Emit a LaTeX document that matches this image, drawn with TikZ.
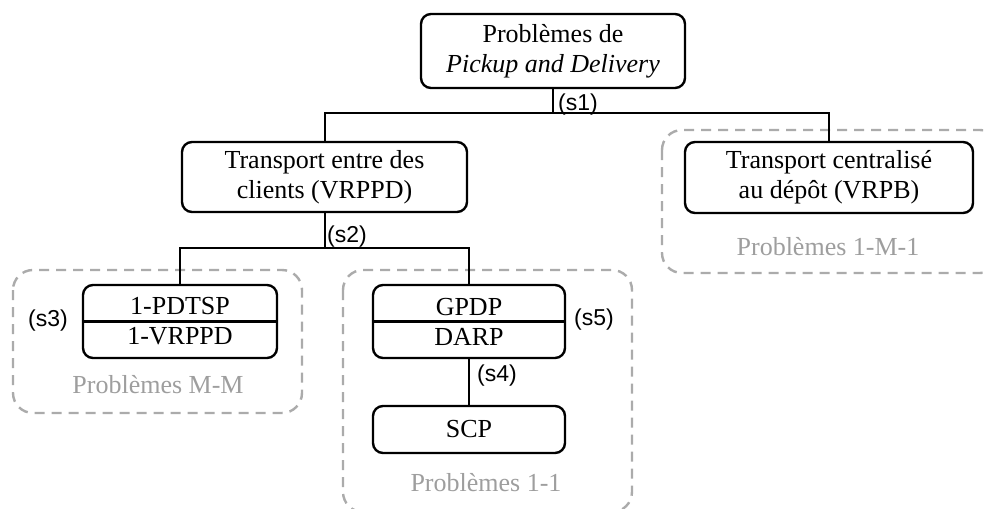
\documentclass[tikz,border=0pt]{standalone}
\usepackage{fontspec}
\setmainfont{Liberation Serif}
\newfontfamily\labfont{Liberation Sans}
\begin{document}
\begin{tikzpicture}[x=0.5pt,y=-0.5pt,
  box/.style={draw,line width=1.2pt,rounded corners=5pt,align=center,inner sep=0pt,font=\fontsize{13}{15}\selectfont},
  grp/.style={draw=black!33,dash pattern=on 5pt off 3.5pt,line width=1.2pt,rounded corners=10pt},
  grplab/.style={text=black!38,inner sep=0pt,font=\fontsize{13}{15}\selectfont},
  conn/.style={line width=1pt},
  slab/.style={font=\labfont\fontsize{11.5}{13}\selectfont,inner sep=0pt}]
\useasboundingbox (0,0) rectangle (986,509);
\clip (0,0) rectangle (986,509);
% groups
\draw[grp] (13,270) rectangle (302,413);
\draw[grp] (343,270) rectangle (632,512);
\draw[grp] (662,130) rectangle (1000,273);
\node[grplab] (gmm) at (158,385) {Problèmes M-M};
\node[grplab] (g11) at (486,483) {Problèmes 1-1};
\node[grplab] (g1m1) at (828,247) {Problèmes 1-M-1};
% boxes
\node[box,minimum width=132pt,minimum height=37pt] (top) at (553,51) {Problèmes de\\\textit{Pickup and Delivery}};
\node[box,minimum width=142.5pt,minimum height=35pt] (cli) at (324.5,177) {Transport entre des\\clients (VRPPD)};
\node[box,minimum width=144pt,minimum height=35.5pt] (dep) at (829,177.5) {Transport centralisé\\au dépôt (VRPB)};
\node[box,minimum width=97pt,minimum height=36.5pt] (mm) at (180,321.5) {1-PDTSP\\1-VRPPD};
\node[box,minimum width=96pt,minimum height=36.5pt] (gp) at (469,321.5) {GPDP\\DARP};
\node[box,minimum width=96pt,minimum height=23.5pt] (scp) at (469,429.5) {SCP};
\draw[line width=1.2pt] (mm.west) -- (mm.east);
\draw[line width=1.2pt] (gp.west) -- (gp.east);
% connectors
\coordinate (bus1) at (0,113);
\coordinate (bus2) at (0,248);
\draw[conn] (top.south) -- (top.south |- bus1);
\draw[conn] (cli.north) |- (dep.north |- bus1) -- (dep.north);
\draw[conn] (cli.south) -- (cli.south |- bus2);
\draw[conn] (mm.north) |- (gp.north |- bus2) -- (gp.north);
\draw[conn] (gp.south) -- (scp.north);
% labels
\node[slab] (s1) at (578,105) {(s1)};
\node[slab] (s2) at (347,237) {(s2)};
\node[slab] (s3) at (48,321) {(s3)};
\node[slab] (s5) at (594,320) {(s5)};
\node[slab] (s4) at (497,376) {(s4)};
\end{tikzpicture}
\end{document}
